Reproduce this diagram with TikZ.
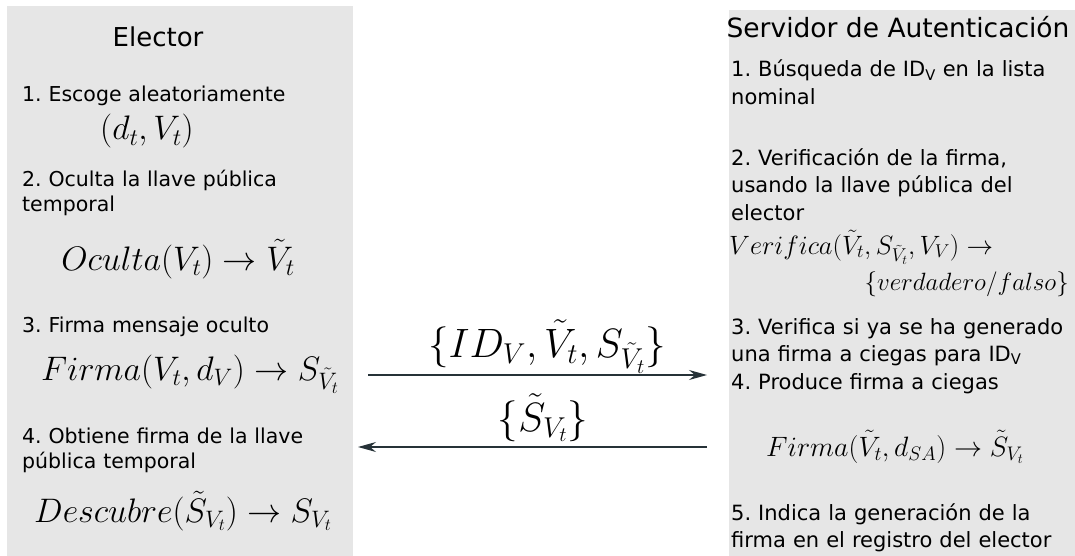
\RequirePackage{fix-cm}
\documentclass[tikz,border=0pt]{standalone}
\usepackage{fontspec}
\setmainfont{DejaVu Sans}
\frenchspacing
\usetikzlibrary{arrows.meta}
\definecolor{panelgray}{HTML}{E6E6E6}
\definecolor{arrowcol}{HTML}{263238}
\begin{document}
\begin{tikzpicture}[x=1pt,y=-1pt,
  panel/.style={fill=panelgray, draw=none},
  txt/.style={anchor=base west, inner sep=0pt, text width=340pt, align=left, font=\fontsize{20.5}{25}\selectfont},
  rtxt/.style={txt, font=\fontsize{21}{27.5}\selectfont},
  ttl/.style={anchor=base, inner sep=0pt, font=\fontsize{26}{30}\selectfont},
  bigmath/.style={anchor=base, inner sep=0pt, font=\fontsize{34}{38}\selectfont},
  midmath/.style={inner sep=0pt, font=\fontsize{26.5}{32}\selectfont},
  msglabel/.style={anchor=base, inner sep=0pt, font=\fontsize{41}{46}\selectfont},
  msg/.style={-{Stealth[length=18pt,width=10pt,inset=6pt]}, line width=1.3pt, draw=arrowcol},
]
\useasboundingbox (0,0) rectangle (1075,556);
\fill[panel] (7,6) rectangle (353,556);
\fill[panel] (729,10) rectangle (1075,556);

% Elector
\node[ttl] (eltitle) at (158,47) {Elector};
\node[txt] (e1) at (22,102) {1. Escoge aleatoriamente};
\node[bigmath] (e1m) at (147,140) {$(d_t,V_t)$};
\node[txt] (e2) at (22,186) {2. Oculta la llave pública\\temporal};
\node[bigmath] (e2m) at (178,270) {$Oculta(V_t)\rightarrow\tilde{V}_t$};
\node[txt] (e3) at (22,332) {3. Firma mensaje oculto};
\node[bigmath] (e3m) at (190,380) {$Firma(V_t,d_V)\rightarrow S_{\tilde{V}_t}$};
\node[txt] (e4) at (22,443) {4. Obtiene firma de la llave\\pública temporal};
\node[bigmath] (e4m) at (183,522) {$Descubre(\tilde{S}_{V_t})\rightarrow S_{V_t}$};

% Servidor
\node[ttl, font=\fontsize{26.5}{30}\selectfont] (srvtitle) at (898,38) {Servidor de Autenticación};
\node[rtxt] (s1) at (731,77) {1. Búsqueda de ID\textsubscript{V} en la lista\\nominal};
\node[rtxt] (s2) at (731,165) {2. Verificación de la firma,\\usando la llave pública del\\elector};
\node[midmath, anchor=base west] (s2m) at (729,254) {$Verifica(\tilde{V}_t,S_{\tilde{V}_t},V_V)\rightarrow$};
\node[midmath, anchor=base east, font=\fontsize{25}{30}\selectfont] (s2r) at (1069,290) {$\{verdadero/falso\}$};
\node[rtxt] (s3) at (731,334) {3. Verifica si ya se ha generado\\una firma a ciegas para ID\textsubscript{V}\\4. Produce firma a ciegas};
\node[midmath, anchor=base, font=\fontsize{28}{32}\selectfont] (s4m) at (895,456) {$Firma(\tilde{V}_t,d_{SA})\rightarrow\tilde{S}_{V_t}$};
\node[rtxt] (s5) at (731,520) {5. Indica la generación de la\\firma en el registro del elector};

% messages
\coordinate (m1s) at (368,375);
\coordinate (m1e) at (707,375);
\coordinate (m2s) at (707,447);
\coordinate (m2e) at (358,447);
\draw[msg] (m1s) -- (m1e);
\draw[msg] (m2s) -- (m2e);
\node[msglabel] (m1l) at (547,357) {$\{ID_V,\tilde{V}_t,S_{\tilde{V}_t}\}$};
\node[msglabel] (m2l) at (543,431) {$\{\tilde{S}_{V_t}\}$};
\end{tikzpicture}
\end{document}
